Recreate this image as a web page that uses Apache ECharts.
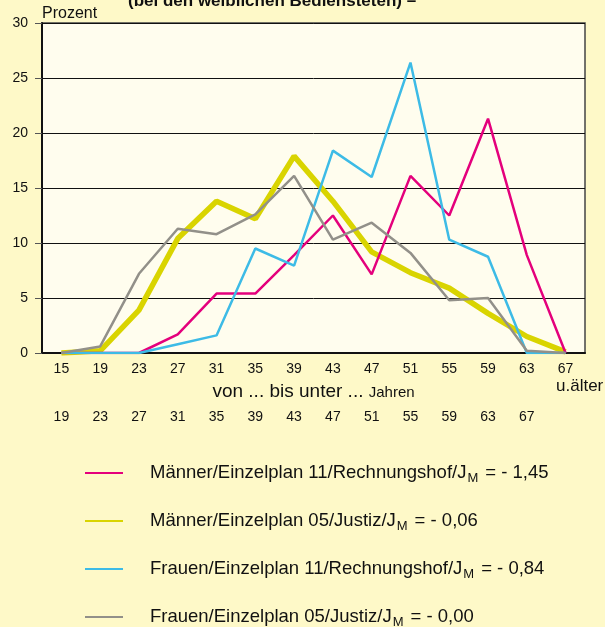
<!DOCTYPE html>
<html>
<head>
<meta charset="utf-8">
<script src="https://cdn.jsdelivr.net/npm/echarts@6/dist/echarts.min.js"></script>
<style>
  html, body { margin: 0; padding: 0; background: #fef9c8; }
  #chart { width: 605px; height: 627px; }
</style>
</head>
<body>
<div id="chart"></div>
<script>
// Altersgruppen: von ... bis unter ... Jahren
var ageFrom = ['15', '19', '23', '27', '31', '35', '39', '43', '47', '51', '55', '59', '63', '67'];
var ageTo = ['19', '23', '27', '31', '35', '39', '43', '47', '51', '55', '59', '63', '67', ''];

// Anteile in Prozent
var maennerRechnungshof = [0, 0, 0, 1.7, 5.4, 5.4, 8.9, 12.5, 7.15, 16.1, 12.5, 21.3, 8.9, 0];
var maennerJustiz = [0, 0.2, 3.9, 10.4, 13.8, 12.2, 17.9, 13.8, 9.2, 7.3, 5.9, 3.6, 1.5, 0.1];
var frauenRechnungshof = [0, 0, 0, 0.8, 1.6, 9.5, 7.95, 18.4, 16.0, 26.4, 10.3, 8.75, 0, 0];
var frauenJustiz = [0, 0.6, 7.2, 11.3, 10.8, 12.6, 16.1, 10.3, 11.85, 9.1, 4.8, 5.0, 0.2, 0];

var seriesNames = [
    'Männer/Einzelplan 11/Rechnungshof',
    'Männer/Einzelplan 05/Justiz',
    'Frauen/Einzelplan 11/Rechnungshof',
    'Frauen/Einzelplan 05/Justiz'
];
var jmValues = ['- 1,45', '- 0,06', '- 0,84', '- 0,00'];

var font = "'Liberation Sans', Arial, sans-serif";

var chart = echarts.init(document.getElementById('chart'));

function makeLine(name, data, color, width, z) {
    return {
        name: name,
        type: 'line',
        data: data,
        symbol: 'none',
        z: z,
        lineStyle: { color: color, width: width },
        itemStyle: { color: color }
    };
}

chart.setOption({
    backgroundColor: '#fef9c8',
    animation: false,
    textStyle: { fontFamily: font },
    title: {
        text: '(bei den weiblichen Bediensteten) –',
        left: 123,
        top: -12,
        textStyle: { fontSize: 17, fontWeight: 'bold', color: '#111', fontFamily: font }
    },
    grid: {
        left: 42,
        right: 20,
        top: 23,
        bottom: 274,
        show: true,
        backgroundColor: '#fffdee',
        borderColor: '#444',
        borderWidth: 1.5
    },
    legend: {
        orient: 'vertical',
        left: 84,
        top: 461,
        height: 170,
        padding: 0,
        itemWidth: 38,
        itemHeight: 16,
        itemGap: 24,
        itemStyle: { opacity: 0 },
        data: seriesNames,
        formatter: function (name) {
            var i = seriesNames.indexOf(name);
            return '{a|' + name + '/J}{s|M}{a|= ' + jmValues[i] + '}';
        },
        textStyle: {
            color: '#111',
            padding: [0, 0, 0, 22],
            rich: {
                a: { fontSize: 18.5, lineHeight: 16, fontFamily: font, color: '#111' },
                s: { fontSize: 13, lineHeight: 16, fontFamily: font, color: '#111', padding: [11, 7, 0, 1] }
            }
        }
    },
    xAxis: [
        {
            type: 'category',
            data: ageFrom,
            boundaryGap: true,
            axisLine: { lineStyle: { color: '#111', width: 2 } },
            axisTick: { show: false },
            axisLabel: { color: '#111', fontSize: 14, margin: 9 },
            name: '{a|von ... bis unter ... }{b|Jahren}',
            nameLocation: 'middle',
            nameGap: 29,
            nameTextStyle: {
                rich: {
                    a: { fontSize: 19, color: '#111', fontFamily: font },
                    b: { fontSize: 15, color: '#111', fontFamily: font, padding: [2, 0, 0, 0] }
                }
            }
        },
        {
            type: 'category',
            data: ageTo,
            position: 'bottom',
            boundaryGap: true,
            axisLine: { show: false },
            axisTick: { show: false },
            axisLabel: { color: '#111', fontSize: 14, margin: 57 }
        }
    ],
    yAxis: {
        type: 'value',
        min: 0,
        max: 30,
        interval: 5,
        name: 'Prozent',
        nameLocation: 'end',
        nameGap: 9,
        nameTextStyle: { align: 'left', verticalAlign: 'middle', color: '#111', fontSize: 16 },
        axisLine: { show: true, lineStyle: { color: '#111', width: 2 } },
        axisTick: { show: true, length: 7, lineStyle: { color: '#555' } },
        axisLabel: { color: '#111', fontSize: 14, margin: 14 },
        splitLine: { lineStyle: { color: '#111', width: 1 } }
    },
    graphic: [
        {
            type: 'text',
            left: 556,
            top: 378,
            style: { text: 'u.älter', fill: '#111', font: '17px ' + font }
        }
    ],
    series: [
        makeLine(seriesNames[0], maennerRechnungshof, '#e4007c', 2.5, 3),
        makeLine(seriesNames[1], maennerJustiz, '#d9d400', 5.5, 2),
        makeLine(seriesNames[2], frauenRechnungshof, '#3dbbe6', 2.5, 4),
        makeLine(seriesNames[3], frauenJustiz, '#929089', 2.5, 5)
    ]
});
</script>
</body>
</html>
